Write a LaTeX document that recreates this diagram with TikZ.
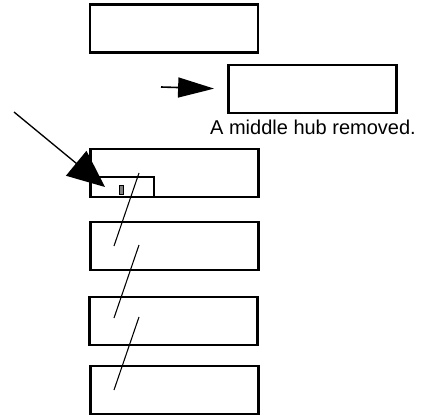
\documentclass[tikz,border=0pt]{standalone}
\usepackage{fontspec}
\setmainfont{Liberation Sans}
\usetikzlibrary{arrows.meta}

\begin{document}
\begin{tikzpicture}[x=0.75pt,y=-0.75pt,
    hub/.style={draw,line width=1.6pt,inner sep=0pt,minimum width=126pt,minimum height=36pt},
    link/.style={line width=0.8pt}]
    \useasboundingbox(0,0) rectangle (437,415);

    \node[hub](top) at (174,28.5){};
    \node[hub](moved) at (312.5,89){};
    \node[anchor=base,font=\fontsize{15pt}{18pt}\selectfont](cap) at (313,134){A middle hub removed.};

    \node[hub](h1) at (174.5,173){};
    \node[hub](h2) at (174.5,246){};
    \node[hub](h3) at (173.5,321){};
    \node[hub](h4) at (174.5,390){};

    \node[draw,line width=1.6pt,inner sep=0pt,minimum width=47pt,minimum height=15pt](mid) at (122.5,187){};
    \node[draw,fill=gray,line width=0.5pt,inner sep=0pt,minimum width=3.5pt,minimum height=7pt](dot) at (121.5,189.5){};

    \coordinate(s) at (161,87);
    \draw[-{Triangle[length=27pt,width=15pt]},line width=1.2pt,shorten >=10pt](s)--(moved.west);

    \coordinate(far) at (14,112);
    \coordinate(tip) at (105,187);
    \draw[-{Triangle[length=28pt,width=24pt]},line width=1pt](far)--(tip);

    \coordinate(a1) at (139,173); \coordinate(a2) at (114,246);
    \coordinate(b1) at (139,245); \coordinate(b2) at (114,318);
    \coordinate(c1) at (139,317); \coordinate(c2) at (114,390);
    \draw[link](a1)--(a2);
    \draw[link](b1)--(b2);
    \draw[link](c1)--(c2);
\end{tikzpicture}
\end{document}
